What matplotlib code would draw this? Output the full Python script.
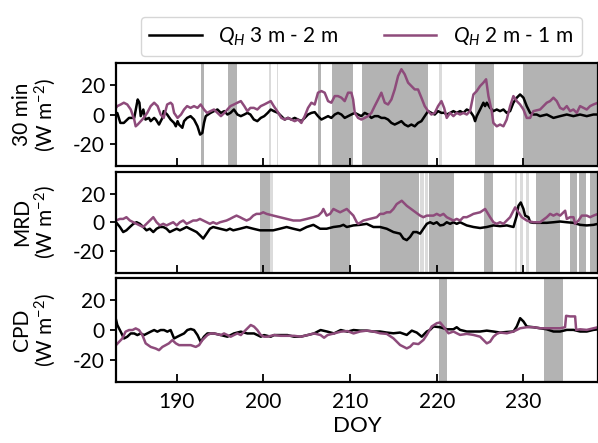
import numpy as np
import matplotlib
matplotlib.use("Agg")
import matplotlib.pyplot as plt

plt.rcParams['font.family'] = ['Lato', 'DejaVu Sans']
plt.rcParams['mathtext.fontset'] = 'custom'
plt.rcParams['mathtext.rm'] = 'Lato'
plt.rcParams['mathtext.it'] = 'Lato:italic'
plt.rcParams['axes.unicode_minus'] = False

# ---- 30 min fluxes ----
doy_30_a = [183.0, 183.15, 183.5, 183.9, 184.5, 185.1, 185.5, 185.7, 185.85, 186.15, 186.4, 186.8, 187.0,
            187.4, 187.6, 187.96, 188.35, 188.5, 188.9, 189.3, 189.7, 189.9, 190.1, 190.27, 190.65, 190.85,
            191.2, 191.6, 192.0, 192.4, 192.7, 192.96, 193.15, 193.35, 193.9, 194.3, 194.7, 195.1, 195.5,
            195.85, 196.2, 196.6, 197.0, 197.4, 197.8, 198.15, 198.5, 198.9, 199.3, 199.7, 200.1, 200.5,
            200.85, 201.2, 201.69, 202.07, 202.46, 202.84, 203.23, 203.61, 204.0, 204.38, 204.77, 205.15,
            205.54, 205.92, 206.3, 206.69, 207.07, 207.46, 207.84, 208.23, 208.61, 209.0, 209.38, 209.77,
            210.15, 210.54, 210.92, 211.3, 211.69, 212.07, 212.46, 212.84, 213.23, 213.61, 214.0, 214.38,
            214.77, 215.15, 215.54, 215.92, 216.3, 216.69, 217.07, 217.46, 217.84, 218.23, 218.61, 219.0,
            219.38, 219.77, 220.15, 220.54, 220.85, 221.15, 221.54, 221.92, 222.3, 222.69, 223.07, 223.46,
            223.84, 224.23, 224.42, 224.61, 225.0, 225.38, 225.57, 225.77, 226.15, 226.53, 226.92, 227.3,
            227.69, 228.07, 228.46, 228.84, 229.23, 229.61, 230.0, 230.38, 230.77, 231.15, 231.53, 231.92,
            232.69, 233.46, 234.23, 235.0, 235.76, 236.53, 237.3, 238.07, 238.6]
qh_30_a = [1.1, 1.0, -5.7, -5.7, -2.3, -2.3, 10.2, 8.0, -1.1, 3.4, -3.4, -2.3, -4.5,
           -2.3, -3.4, -6.8, -2.3, 2.3, 0.0, -3.4, -5.7, -8.0, -4.5, -6.8, -9.0, -4.5,
           -2.3, -1.1, -3.4, -8.0, -13.6, -12.5, -5.7, -1.1, 1.1, 2.3, 3.4, 1.1, 2.3,
           0.0, 1.1, 3.4, 0.0, -1.1, 0.0, 1.1, 0.0, -3.4, -4.5, -2.3, -1.1, 1.1,
           3.4, 2.3, 1.1, -1.1, -3.4, -2.3, -3.4, -2.3, -3.4, -4.5, -2.3, 0.0,
           1.1, 1.6, -1.1, -3.4, -2.3, -1.1, -2.3, 0.0, 1.1, 0.0, -2.3, -1.1,
           0.0, 1.1, 0.0, -1.1, 1.1, 0.0, -2.3, -1.1, -1.1, -2.3, -2.3, -3.4,
           -5.7, -6.8, -5.7, -4.5, -6.8, -8.0, -6.8, -8.0, -5.7, -4.5, -1.1, 2.3,
           1.1, 0.0, 2.3, 1.1, 1.2, 0.0, 1.1, 2.3, 1.1, 2.3, 1.1, 3.4,
           2.3, -1.1, -4.5, -1.1, 3.4, 8.0, 5.7, 8.0, 4.5, 2.3, 3.4, 2.3,
           3.4, 1.1, 2.3, 8.0, 11.4, 13.6, 11.4, 5.7, 1.1, 0.0, 0.0, -1.1,
           0.0, -2.3, -1.1, 0.0, -1.1, 0.0, -1.1, 0.0, 0.0]

doy_30_b = [183.0, 183.15, 183.54, 183.9, 184.3, 184.7, 185.1, 185.27, 185.5, 185.85, 186.2, 186.6, 187.0,
            187.4, 187.8, 188.15, 188.5, 188.9, 189.3, 189.5, 189.7, 190.1, 190.5, 190.85, 191.2, 191.6,
            192.0, 192.4, 192.77, 193.15, 193.5, 193.9, 194.3, 194.7, 195.1, 195.5, 195.85, 196.2, 196.6,
            197.0, 197.4, 197.8, 198.15, 198.5, 198.9, 199.3, 199.7, 200.1, 200.5, 200.85, 201.2, 201.6,
            202.07, 202.46, 202.84, 203.23, 203.61, 204.0, 204.38, 204.77, 205.15, 205.54, 205.92, 206.3,
            206.69, 207.07, 207.46, 207.84, 208.23, 208.61, 209.0, 209.38, 209.77, 210.15, 210.35, 210.54,
            210.92, 211.3, 211.69, 212.07, 212.46, 212.84, 213.23, 213.61, 214.0, 214.38, 214.77, 215.15,
            215.54, 215.92, 216.3, 216.69, 217.07, 217.46, 217.84, 218.23, 218.61, 219.0, 219.38, 219.77,
            220.15, 220.54, 220.85, 221.15, 221.54, 221.92, 222.3, 222.69, 223.07, 223.46, 223.84, 224.23,
            224.61, 225.0, 225.38, 225.69, 225.96, 226.34, 226.53, 226.92, 227.3, 227.69, 228.07, 228.46,
            228.84, 229.23, 229.61, 230.0, 230.38, 230.77, 231.15, 231.92, 232.3, 232.69, 233.07, 233.46,
            233.84, 234.23, 234.61, 235.0, 235.38, 235.76, 236.15, 236.53, 236.92, 237.3, 237.69, 238.07,
            238.6]
qh_30_b = [4.5, 5.7, 6.8, 8.0, 6.8, 3.4, -3.4, -8.0, -6.8, -4.5, -2.3, 1.1, 5.7,
           8.0, 5.7, 0.0, -2.3, 6.8, 8.0, 6.8, 1.1, -2.3, 0.0, 3.4, 5.7, 4.5,
           5.7, 4.5, 6.8, 3.4, 1.1, 2.3, 3.4, 1.1, -1.1, 1.1, 3.4, 5.7, 6.8,
           8.0, 9.1, 5.7, 2.3, 4.5, 4.5, 3.4, 5.7, 6.8, 8.0, 9.1, 5.7, 2.3,
           -2.3, -3.4, -2.3, -3.4, -4.5, -3.4, -5.7, -1.1, 4.5, 8.0, 6.8, 14.8,
           15.9, 14.8, 9.1, 8.0, 12.5, 12.5, 11.4, 9.1, 14.8, 14.8, 10.2, 1.1,
           -2.3, -3.4, -2.3, -1.1, 1.1, 5.7, 10.2, 14.8, 8.0, 6.8, 10.2, 17.0,
           26.1, 30.7, 27.3, 21.6, 19.3, 17.0, 17.0, 11.4, 5.7, 2.3, 0.0, 1.1,
           5.7, 9.1, 4.5, -2.3, 1.1, -1.1, 1.1, 0.0, 1.1, 0.0, 2.3, 13.6,
           15.9, 19.3, 21.6, 23.9, 12.5, 2.3, -5.7, -8.0, -6.8, -8.0, -3.4, 5.7,
           12.5, 9.1, 6.8, 3.4, -2.3, -2.3, 2.3, 3.4, 5.7, 8.0, 9.1, 11.4,
           9.1, 4.5, 3.4, 5.7, 2.3, 3.4, 1.1, 5.7, 4.5, 3.4, 5.7, 6.8,
           8.0]

# ---- MRD fluxes ----
doy_mrd_a = [183.0, 183.45, 183.83, 184.2, 184.6, 185.0, 185.37, 185.75, 186.14, 186.52, 186.9, 187.3,
             187.68, 188.06, 188.45, 188.83, 189.2, 189.6, 190.0, 190.37, 190.75, 191.14, 191.52, 191.9,
             192.3, 192.68, 193.06, 193.45, 193.83, 194.2, 195.0, 195.75, 196.14, 196.52, 197.3, 198.06,
             198.83, 199.6, 200.37, 201.14, 201.9, 202.68, 203.45, 204.23, 205.0, 205.77, 206.54, 207.3,
             208.08, 208.85, 209.23, 209.62, 210.38, 211.15, 211.92, 212.3, 212.69, 213.46, 214.23, 215.0,
             215.77, 216.15, 216.54, 216.92, 217.3, 217.69, 218.08, 218.46, 218.85, 219.23, 219.62, 220.0,
             220.38, 220.77, 221.15, 221.54, 221.92, 222.3, 222.69, 223.07, 223.46, 224.23, 225.0, 225.77,
             226.54, 227.3, 228.08, 228.85, 229.23, 229.42, 229.69, 230.0, 230.19, 230.58, 230.77, 231.15,
             231.92, 232.69, 233.46, 234.23, 235.0, 235.77, 236.54, 237.3, 238.08, 238.6]
qh_mrd_a = [0.1, -3.2, -6.7, -5.5, -3.2, -1.0, 0.1, -1.0, -3.2, -5.5, -4.4, -6.7,
            -4.4, -3.2, -3.2, -4.4, -6.7, -5.5, -4.4, -5.5, -4.4, -3.2, -4.4, -5.5,
            -6.7, -8.9, -11.2, -7.8, -4.4, -3.2, -4.4, -5.5, -4.4, -5.5, -4.4, -3.2,
            -4.4, -5.5, -5.5, -5.5, -4.4, -3.2, -4.4, -5.5, -3.2, -1.7, -4.4, -4.4,
            -3.2, -2.6, -1.7, -3.2, -2.1, -1.7, -1.0, -2.1, -3.2, -3.2, -4.4, -6.7,
            -7.8, -11.2, -12.3, -10.1, -6.7, -6.7, -7.8, -4.4, -1.0, 0.1, -1.0, 0.1,
            -2.1, -1.7, 0.1, -1.0, 0.1, -1.0, 0.1, -1.0, -2.1, -3.2, -3.9, -3.2,
            -2.1, -2.6, -2.1, -3.2, 4.7, 11.5, 13.8, 9.3, 4.7, 3.6, 0.1, -0.3,
            -0.3, -0.3, 0.1, 0.6, 0.1, -0.3, -1.7, -2.1, -1.7, -1.0]

doy_mrd_b = [183.0, 183.45, 183.83, 184.2, 184.6, 185.0, 185.37, 185.75, 186.14, 186.52, 186.9, 187.3,
             187.68, 188.06, 188.45, 188.83, 189.2, 189.6, 190.0, 190.37, 190.75, 191.14, 191.52, 191.9,
             192.3, 192.68, 193.06, 193.45, 193.83, 194.2, 194.6, 195.0, 195.75, 196.14, 196.52, 196.9,
             197.3, 197.68, 198.06, 198.45, 198.83, 199.2, 199.6, 199.98, 200.37, 201.14, 201.9, 202.68,
             203.45, 204.23, 205.0, 205.77, 206.35, 206.73, 206.92, 207.3, 207.69, 208.08, 208.46, 208.85,
             209.23, 209.62, 210.0, 210.38, 210.77, 210.96, 211.54, 212.3, 213.08, 213.46, 213.85, 214.23,
             214.62, 215.0, 215.38, 215.96, 216.54, 217.3, 218.08, 218.46, 218.85, 219.62, 220.0, 220.38,
             220.77, 221.15, 221.54, 221.92, 222.3, 222.69, 223.07, 223.46, 223.85, 224.23, 225.0, 225.58,
             226.15, 226.54, 226.92, 227.3, 227.69, 228.08, 228.46, 228.85, 229.04, 229.42, 229.81, 230.38,
             230.77, 231.15, 231.92, 232.69, 233.08, 233.46, 233.85, 234.23, 234.62, 234.81, 235.0, 235.38,
             235.77, 235.96, 236.35, 236.73, 237.3, 237.69, 238.08, 238.6]
qh_mrd_b = [1.3, 2.4, 2.4, 3.6, 1.3, 0.1, -1.0, -2.1, -3.2, -1.0, 1.3, 3.6,
            0.1, -2.1, -1.0, -2.1, -1.0, 0.1, -2.1, 0.1, 1.3, -1.0, 0.1, 1.3,
            1.3, 2.4, 1.3, 0.1, -1.0, 0.1, -1.0, 0.1, 1.3, 2.4, 3.6, 4.7,
            3.6, 2.4, 1.3, 2.4, 4.7, 5.9, 5.9, 7.0, 5.9, 4.7, 3.6, 2.4,
            1.3, 1.3, 2.4, 3.6, 4.7, 7.0, 9.3, 4.7, 5.9, 9.3, 8.1, 7.0,
            8.1, 9.3, 7.0, 4.7, 0.1, -1.0, 1.3, 2.4, 3.6, 5.9, 5.9, 7.0,
            7.0, 9.3, 12.7, 15.0, 11.5, 8.1, 4.7, 3.6, 4.7, 4.7, 5.9, 4.7,
            5.9, 3.6, 2.4, 1.3, 2.4, 1.3, 3.6, 3.6, 4.7, 5.9, 7.0, 9.3,
            3.6, 0.1, -1.0, 0.1, -1.0, 1.3, 3.6, 8.1, 10.4, 7.0, 3.6, 1.3,
            0.6, 0.1, 0.1, 3.6, 5.9, 4.7, 5.9, 4.7, 7.0, 8.1, 2.4, 3.6,
            3.6, -1.0, 1.3, 4.7, 4.7, 3.6, 4.7, 5.9]

# ---- CPD fluxes ----
doy_cpd_a = [183.0, 183.15, 183.54, 183.92, 184.3, 184.7, 185.1, 185.46, 185.85, 186.23, 186.6, 187.0,
             187.4, 187.77, 188.15, 188.54, 188.92, 189.3, 189.7, 190.08, 190.46, 190.85, 191.23, 191.62,
             192.0, 192.4, 192.77, 193.15, 193.54, 194.3, 195.1, 195.85, 196.23, 196.6, 197.4, 198.15,
             198.92, 199.7, 200.08, 200.85, 201.23, 202.0, 202.77, 203.54, 204.3, 205.1, 205.85, 206.6,
             207.4, 208.15, 208.92, 209.7, 210.4, 211.15, 211.92, 212.69, 213.46, 214.23, 215.0, 215.77,
             216.54, 217.12, 217.69, 218.27, 218.85, 219.23, 219.62, 220.38, 221.15, 221.92, 222.3, 222.69,
             223.46, 224.23, 225.0, 225.77, 226.54, 227.3, 228.08, 228.85, 229.23, 229.62, 230.0, 230.38,
             231.15, 231.92, 232.69, 233.46, 234.23, 235.0, 235.77, 236.54, 237.3, 238.08, 238.6]
qh_cpd_a = [7.0, 3.4, -1.1, -5.7, -4.5, -2.3, -2.3, -3.4, -2.3, -3.4, -2.3, -1.1,
            0.0, -1.1, 0.0, 0.0, -1.1, 0.0, -5.7, -4.5, -3.4, -2.3, 0.0, 0.7,
            0.0, -3.4, -8.0, -4.5, -2.3, -2.3, -3.4, -4.5, -3.4, -2.3, -1.1, -2.3,
            -2.3, -4.5, -3.4, -4.5, -3.4, -3.4, -3.4, -4.5, -4.5, -3.4, -2.3, 0.0,
            -1.1, -2.3, 0.0, -1.1, 0.0, -0.4, -0.4, -1.0, -1.0, -1.7, -2.2, -1.7,
            -3.3, -0.4, -1.7, -4.5, -1.0, 0.1, 2.4, 1.9, 0.5, 0.5, 1.9, 0.1,
            -1.0, -1.0, -1.0, -0.4, -1.0, -1.7, -1.3, -1.0, 2.4, 8.0, 5.8, 2.4,
            1.9, 1.2, 0.5, -1.0, -1.0, 0.1, 0.1, -1.0, -1.0, 0.1, 0.5]

doy_cpd_b = [183.0, 183.35, 183.73, 184.1, 184.5, 184.9, 185.27, 185.65, 186.04, 186.42, 187.0, 187.58,
             187.96, 188.35, 188.73, 189.1, 189.5, 189.9, 190.27, 190.85, 191.62, 192.2, 192.58, 192.96,
             193.54, 193.92, 194.3, 195.1, 195.46, 195.85, 196.23, 196.6, 197.0, 197.4, 197.77, 198.15,
             198.54, 198.92, 199.3, 199.7, 200.08, 200.46, 201.23, 202.0, 202.77, 203.54, 204.3, 205.1,
             205.85, 206.6, 207.0, 207.4, 208.15, 208.92, 209.7, 210.4, 211.15, 211.92, 212.69, 213.46,
             214.23, 215.0, 215.77, 216.54, 216.92, 217.3, 217.88, 218.46, 218.85, 219.42, 220.0, 220.38,
             220.77, 221.35, 221.92, 222.69, 223.46, 224.23, 225.0, 225.77, 226.15, 226.54, 226.92, 227.3,
             228.08, 228.85, 229.62, 230.38, 231.15, 231.92, 232.69, 233.46, 234.23, 234.8, 234.92, 235.38,
             235.96, 236.08, 236.54, 237.3, 238.08, 238.6]
qh_cpd_b = [-10.2, -8.0, -5.7, -1.1, 0.0, 0.0, 1.1, 0.0, -3.4, -9.0, -11.4, -12.5,
            -13.6, -11.4, -10.2, -9.0, -6.8, -9.0, -10.2, -10.2, -10.2, -11.4, -10.2, -6.8,
            -3.4, -2.3, -2.3, -3.4, -2.3, -3.4, -4.5, -3.4, -2.3, -3.4, -1.1, 1.1,
            3.4, 2.3, 0.0, -3.4, -4.5, -4.5, -3.4, -3.9, -3.9, -3.9, -4.5, -3.4,
            -2.3, -3.4, -5.2, -3.4, -2.3, -1.1, -0.7, -2.3, -1.0, -0.4, -1.0, -2.2,
            -2.6, -5.6, -10.1, -12.4, -11.3, -9.0, -9.5, -6.7, -3.3, 2.4, 4.6, 5.1,
            2.4, -2.2, -1.0, -3.3, -2.6, -3.3, -4.5, -9.0, -7.9, -4.5, -2.6, -1.7,
            -2.2, -1.0, 1.2, 1.9, 1.9, 1.2, 1.2, 1.2, 1.2, 1.9, 9.6, 9.2,
            9.2, 0.1, 0.5, 0.1, 1.2, 1.9]

# gap periods (DOY start, end)
gaps_30 = [(192.85, 193.2), (195.95, 197.0), (206.3, 206.65), (207.9, 210.3), (211.35, 219.0),
           (224.4, 226.6), (230.0, 239.0)]
thin_30 = [(200.7, 200.85), (201.6, 201.7), (220.3, 220.6)]
gaps_mrd = [(199.6, 200.8), (207.7, 210.0), (213.5, 217.9), (219.1, 222.0), (225.5, 226.5),
            (231.4, 234.2), (235.4, 236.15), (236.45, 237.2), (237.7, 239.0)]
thin_mrd = [(200.8, 201.1), (218.1, 218.5), (218.6, 219.0), (229.0, 229.2), (229.6, 229.9),
            (230.3, 230.6)]
gaps_cpd = [(220.3, 221.15), (232.4, 234.6)]
thin_cpd = []

labels = ["$Q_H$ 3 m - 2 m", "$Q_H$ 2 m - 1 m"]
colors = ["black", "#8e4b7b"]
row_names = ["30 min", "MRD", "CPD"]
xticks = [190, 200, 210, 220, 230]
yticks = [-20, 0, 20]


fig = plt.figure(figsize=(5.98, 4.43), dpi=100)
boxes = [(0.194, 0.625, 0.806, 0.233),
         (0.194, 0.384, 0.806, 0.228),
         (0.194, 0.138, 0.806, 0.234)]

panels = [(doy_30_a, qh_30_a, doy_30_b, qh_30_b, gaps_30, thin_30),
          (doy_mrd_a, qh_mrd_a, doy_mrd_b, qh_mrd_b, gaps_mrd, thin_mrd),
          (doy_cpd_a, qh_cpd_a, doy_cpd_b, qh_cpd_b, gaps_cpd, thin_cpd)]

axes = []
for i, (xa, ya, xb, yb, gaps, thin) in enumerate(panels):
    ax = fig.add_axes(boxes[i])
    for a, b in gaps:
        ax.axvspan(a, b, color='0.7', lw=0, zorder=0)
    for a, b in thin:
        ax.axvspan(a, b, color='0.86', lw=0, zorder=0)
    l1, = ax.plot(xa, ya, color=colors[0], lw=1.8, label=labels[0])
    l2, = ax.plot(xb, yb, color=colors[1], lw=1.8, label=labels[1])
    ax.set_xlim(183.0, 238.6)
    ax.set_ylim(-35, 35)
    ax.set_xticks(xticks)
    ax.set_yticks(yticks)
    ax.tick_params(axis='x', direction='in', length=6, width=1.3, labelsize=15, pad=7)
    ax.tick_params(axis='y', direction='out', length=4.5, width=1.3, labelsize=15)
    for s in ax.spines.values():
        s.set_linewidth(1.6)
    ax.set_ylabel(row_names[i] + "\n(W m$^{-2}$)", fontsize=15, linespacing=1.05)
    ax.yaxis.set_label_coords(-0.12, 0.5)
    if i < 2:
        ax.tick_params(axis='x', labelbottom=False)
    axes.append(ax)

axes[-1].set_xlabel("DOY", fontsize=16, labelpad=3)

fig.legend(handles=[l1, l2], loc='upper right', bbox_to_anchor=(0.99, 0.985), ncol=2,
           fontsize=15, handlelength=2.5, handletextpad=0.8, columnspacing=2.2,
           frameon=True, edgecolor='0.8', borderpad=0.4)

fig.savefig("out.png", dpi=100)
